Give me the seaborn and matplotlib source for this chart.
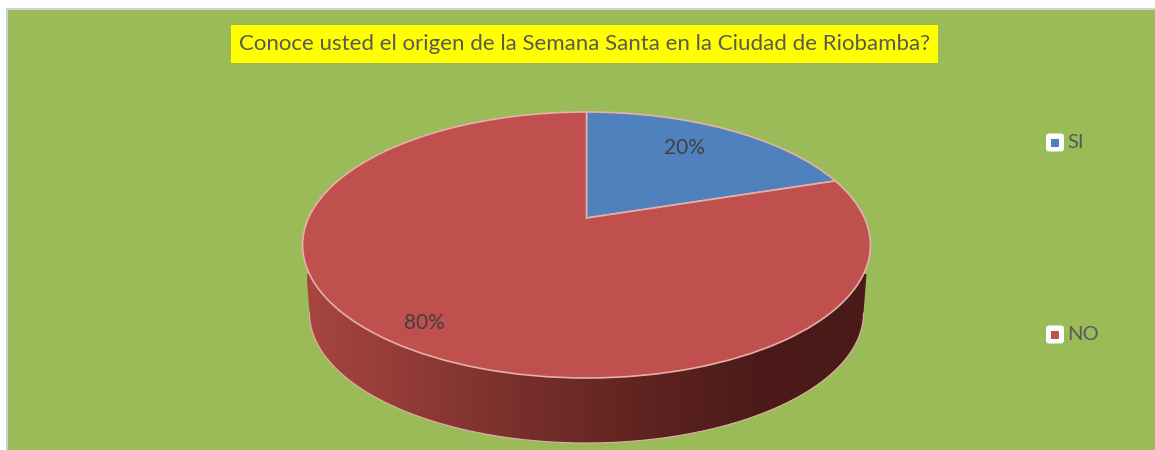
import numpy as np
import seaborn as sns
import matplotlib.pyplot as plt
import matplotlib.transforms as mtransforms
from matplotlib.colors import LinearSegmentedColormap
from matplotlib.patches import FancyBboxPatch, Polygon, Rectangle
from matplotlib.path import Path

# Data
title = 'Conoce usted el origen de la Semana Santa en la Ciudad de Riobamba?'
categories = ['SI', 'NO']
percent = [20, 80]

colors = sns.color_palette(['#4f81bd', '#c0504d'])
green = '#9bbb59'
text_grey = '#595959'

sns.set_theme(style='white')
plt.rcParams['font.family'] = ['Lato', 'DejaVu Sans']


# the tilted look of the pie: the centre sits higher than the middle of the ellipse
K = 0.203
A, B, C = 278.0, 133.0, 27.0


class Tilt(mtransforms.Transform):
    input_dims = 2
    output_dims = 2

    def transform_non_affine(self, values):
        values = np.asarray(values, dtype=float)
        w = 1 + K * values[:, 1]
        return np.column_stack([A * values[:, 0] / w, (B * values[:, 1] + C) / w])

    def transform_path_non_affine(self, path):
        return Path(self.transform_non_affine(path.vertices), path.codes)


def px(x, y):
    # picture pixels to axes data
    return x - 586.5, 245 - y


fig = plt.figure(figsize=(11.55, 4.5), dpi=100, facecolor='white')
ax = fig.add_axes([7 / 1155, 0, 1148 / 1155, 441 / 450])

# Side wall
t = np.linspace(np.pi, 2 * np.pi, 200)
wall_rx, wall_ry, wall_y = 277, 130, -68
wall_x = wall_rx * np.cos(t)
wall_bottom = wall_y + wall_ry * np.sin(t)
wall_pts = np.column_stack([np.r_[wall_x, wall_rx + 3, -wall_rx - 3], np.r_[wall_bottom, -29, -29]])
wall_cmap = LinearSegmentedColormap.from_list(
    'wall', ['#a8453f', '#8f3a36', '#762e2a', '#5f2320', '#4c1b19', '#4a1a18'])
clip = Polygon(wall_pts, closed=True, transform=ax.transData, facecolor='none', edgecolor='none')
ax.add_patch(clip)
grad = ax.imshow(np.linspace(0, 1, 256).reshape(1, -1), cmap=wall_cmap, aspect='auto',
                 extent=(-wall_rx - 3, wall_rx + 3, -200, 0), zorder=1)
grad.set_clip_path(clip)
ax.plot(wall_x, wall_bottom, color='#e0b0a8', lw=0.8, zorder=1.5)

# Top of the pie
wedges, _ = ax.pie(percent, colors=colors, startangle=90, counterclock=False,
                   wedgeprops={'edgecolor': '#e6b0aa', 'linewidth': 1.2})
for w in wedges:
    w.set_transform(Tilt() + ax.transData)
    w.set_zorder(2)

# Percent labels
for value, pos in zip(percent, [(684, 148), (424, 323)]):
    ax.text(*px(*pos), f'{value}%', ha='center', va='center', fontsize=15,
            color='#404040', zorder=3)

# Title
x0, y0 = px(231, 63)
x1, y1 = px(938, 25)
ax.add_patch(Rectangle((x0, y0), x1 - x0, y1 - y0, facecolor='#ffff00', edgecolor='none', zorder=3))
ax.text(*px(585, 44), title, ha='center', va='center', fontsize=16.05, color=text_grey, zorder=4)

# Legend
for name, color, py in zip(categories, colors, [142.5, 334.5]):
    cx, cy = px(1055, py)
    ax.add_patch(FancyBboxPatch((cx - 6, cy - 6), 12, 12, boxstyle='round,pad=3,rounding_size=3',
                                facecolor='white', edgecolor='none', zorder=3))
    ax.add_patch(Rectangle((cx - 4, cy - 4), 8, 8, facecolor=color, edgecolor='none', zorder=4))
    ax.text(cx + 12.5, cy, name, ha='left', va='center', fontsize=14.5, color=text_grey, zorder=4)

ax.set_xlim(*[px(7, 0)[0], px(1155, 0)[0]])
ax.set_ylim(px(0, 450)[1], px(0, 9)[1])
ax.set_aspect('auto')
ax.set_frame_on(True)
ax.set_facecolor(green)
for side in ['right', 'bottom']:
    ax.spines[side].set_visible(False)
for side in ['left', 'top']:
    ax.spines[side].set_color('#d0d0d0')
    ax.spines[side].set_linewidth(1.5)

fig.savefig('out.png', dpi=100)
